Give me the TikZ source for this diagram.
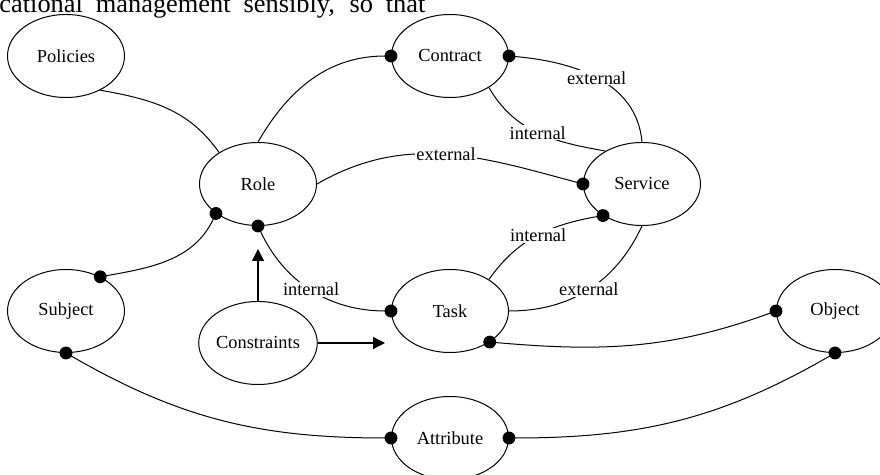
\documentclass[tikz,border=0pt]{standalone}
\usepackage{fontspec}
\setmainfont{Liberation Serif}
\usetikzlibrary{shapes.geometric,arrows.meta}

\tikzset{
  concept/.style={ellipse, draw, line width=0.5pt, minimum width=58.5pt, minimum height=41.5pt, inner sep=0pt},
  link/.style={line width=0.5pt},
  lbl/.style={fill=white, inner sep=0.5pt},
  dotend/.style={-{Circle[length=6.4pt]}, shorten >=-3.2pt},
  dotstart/.style={{Circle[length=6.4pt]}-, shorten <=-3.2pt},
  dotboth/.style={{Circle[length=6.4pt]}-{Circle[length=6.4pt]}, shorten <=-3.2pt, shorten >=-3.2pt},
  flow/.style={-{Triangle[length=6pt,width=6pt]}, line width=0.7pt},
}

\begin{document}
\begin{tikzpicture}[x=0.5pt, y=0.5pt, font=\fontsize{9.2}{11}\selectfont]
\useasboundingbox (0,0) rectangle (880,-475);
\clip (0,0) rectangle (880,-475);

% line of page text cut off above the figure
\node (pagetext) [anchor=base west, inner sep=0pt, font=\fontsize{13.2}{15}\selectfont] at (-1,-13)
  {\makebox[213pt][s]{cational management sensibly, so that}};

\node (policies) at (66, -56) [concept] {Policies};
\node (contract) at (450, -56) [concept] {Contract};
\node (role) at (258, -184) [concept] {Role};
\node (service) at (642, -184) [concept] {Service};
\node (subject) at (66, -311) [concept] {Subject};
\node (task) at (450, -311) [concept] {Task};
\node (object) at (835, -311) [concept] {Object};
\node (constraints) at (258, -343) [concept] {Constraints};
\node (attribute) at (450, -438) [concept] {Attribute};

\draw[link] (policies.-45) to[out=-10, in=125] (role.141);
\draw[link, dotend] (role.north) to[out=60, in=180] (contract.west);
\draw[link, dotend] (role.east) to[out=30, in=165] node[lbl] {external} (service.west);
\draw[link, dotstart] (contract.east) to[out=-5, in=95] node[lbl] {external} (service.north);
\draw[link] (contract.-39) to[out=-60, in=170] node[lbl] {internal} (service.138);
\draw[link, dotstart] (service.219) to[out=190, in=55] node[lbl] {internal} (task.39);
\draw[link] (service.south) to[out=-115, in=0] node[lbl] {external} (task.east);
\draw[link, dotboth] (role.south) to[out=-65, in=180] node[lbl] {internal} (task.west);
\draw[link, dotboth] (role.215) to[out=-115, in=10] (subject.45);
\draw[link, dotboth] (subject.south) to[out=-30, in=180] (attribute.west);
\draw[link, dotboth] (task.-38) to[out=-5, in=200] (object.west);
\draw[link, dotboth] (object.south) to[out=-150, in=0] (attribute.east);

\draw[flow, shorten >=11.5pt] (constraints) -- (role);
\draw[flow, shorten >=3pt] (constraints.east) -- (constraints.east -| task.west);
\end{tikzpicture}
\end{document}
